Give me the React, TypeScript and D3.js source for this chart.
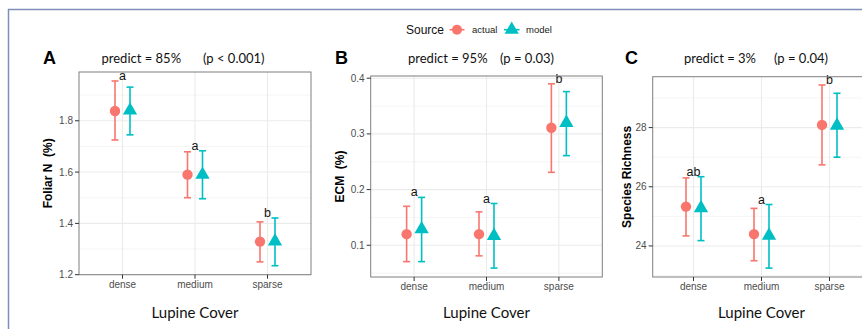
import * as d3 from 'd3'

const categories = ['dense', 'medium', 'sparse']

// Panel A: Foliar N (%)
const foliarActualMean = [1.838, 1.59, 1.329]
const foliarActualLower = [1.725, 1.5, 1.25]
const foliarActualUpper = [1.955, 1.679, 1.406]
const foliarModelMean = [1.84, 1.59, 1.33]
const foliarModelLower = [1.745, 1.496, 1.235]
const foliarModelUpper = [1.931, 1.683, 1.421]
const foliarLetters = ['a', 'a', 'b']
const foliarTicks = [1.2, 1.4, 1.6, 1.8]
const foliarMinor = [1.3, 1.5, 1.7, 1.9]

// Panel B: ECM (%)
const ecmActualMean = [0.12, 0.12, 0.311]
const ecmActualLower = [0.0706, 0.081, 0.231]
const ecmActualUpper = [0.17, 0.16, 0.39]
const ecmModelMean = [0.129, 0.117, 0.32]
const ecmModelLower = [0.0706, 0.059, 0.261]
const ecmModelUpper = [0.186, 0.175, 0.376]
const ecmLetters = ['a', 'a', 'b']
const ecmTicks = [0.1, 0.2, 0.3, 0.4]
const ecmMinor = [0.05, 0.15, 0.25, 0.35]

// Panel C: Species Richness
const richActualMean = [25.33, 24.4, 28.09]
const richActualLower = [24.34, 23.5, 26.74]
const richActualUpper = [26.3, 25.27, 29.44]
const richModelMean = [25.28, 24.35, 28.07]
const richModelLower = [24.18, 23.25, 27.0]
const richModelUpper = [26.34, 25.4, 29.16]
const richLetters = ['ab', 'a', 'b']
const richTicks = [24, 26, 28]
const richMinor = [23, 25, 27, 29]

const RED = '#F8766D'
const TEAL = '#00BFC4'
const SANS = 'Liberation Sans, Arial, sans-serif'
const HUMAN = 'Lato, Open Sans, sans-serif'

interface Series {
  mean: number[]
  lower: number[]
  upper: number[]
}

interface PanelProps {
  tag: string
  predict: string
  pval: string
  yTitle: string
  box: { left: number; top: number; right: number; bottom: number }
  domain: [number, number]
  ticks: number[]
  minor: number[]
  actual: Series
  model: Series
  letters: string[]
  yTitleX: number
  predictX: number
  pvalX: number
  tagX: number
  fmt: (v: number) => string
}

const triangle = d3.symbol(d3.symbolTriangle, 88)()

function Panel(p: PanelProps) {
  const { left, top, right, bottom } = p.box
  const x = d3.scaleBand<string>().domain(categories).range([left, right]).paddingOuter(0.1)
  const bw = x.bandwidth()
  const cx = (c: string) => (x(c) as number) + bw / 2
  const y = d3.scaleLinear().domain(p.domain).range([bottom, top])
  const dodge = 7.5
  const cap = 3.5

  const drawBar = (s: Series, i: number, xc: number, color: string) => (
    <g stroke={color} strokeWidth={1.6} fill="none">
      <line x1={xc} x2={xc} y1={y(s.lower[i])} y2={y(s.upper[i])} />
      <line x1={xc - cap} x2={xc + cap} y1={y(s.lower[i])} y2={y(s.lower[i])} />
      <line x1={xc - cap} x2={xc + cap} y1={y(s.upper[i])} y2={y(s.upper[i])} />
    </g>
  )

  return (
    <g>
      {/* grid */}
      {p.minor.map((v) => (
        <line key={'mi' + v} x1={left} x2={right} y1={y(v)} y2={y(v)} stroke="#f2f2f2" strokeWidth={0.8} />
      ))}
      {p.ticks.map((v) => (
        <line key={'ma' + v} x1={left} x2={right} y1={y(v)} y2={y(v)} stroke="#ebebeb" strokeWidth={1.1} />
      ))}
      {categories.map((c) => (
        <line key={'vx' + c} x1={cx(c)} x2={cx(c)} y1={top} y2={bottom} stroke="#ebebeb" strokeWidth={1.1} />
      ))}

      {/* marks */}
      {categories.map((c, i) => {
        const xa = cx(c) - dodge
        const xm = cx(c) + dodge
        return (
          <g key={c}>
            {drawBar(p.actual, i, xa, RED)}
            <circle cx={xa} cy={y(p.actual.mean[i])} r={5.2} fill={RED} />
            {drawBar(p.model, i, xm, TEAL)}
            <path d={triangle as string} transform={`translate(${xm},${y(p.model.mean[i])})`} fill={TEAL} />
            <text
              x={cx(c)}
              y={y(Math.max(p.actual.upper[i], p.model.upper[i])) - 1}
              textAnchor="middle"
              fontFamily={SANS}
              fontSize={12.5}
              fill="#111"
            >
              {p.letters[i]}
            </text>
          </g>
        )
      })}

      {/* panel border */}
      <rect x={left} y={top} width={right - left} height={bottom - top} fill="none" stroke="#7f7f7f" strokeWidth={1} />

      {/* y axis */}
      {p.ticks.map((v) => (
        <g key={'yt' + v}>
          <line x1={left - 4} x2={left} y1={y(v)} y2={y(v)} stroke="#333" strokeWidth={1} />
          <text x={left - 6} y={y(v)} dy="0.35em" textAnchor="end" fontFamily={SANS} fontSize={10} fill="#4d4d4d">
            {p.fmt(v)}
          </text>
        </g>
      ))}
      <text
        transform={`translate(${p.yTitleX},${(top + bottom) / 2}) rotate(-90)`}
        dy="0.35em"
        textAnchor="middle"
        fontFamily={SANS}
        fontSize={12}
        fontWeight="bold"
        fill="#000"
        style={{ whiteSpace: 'pre' }}
      >
        {p.yTitle}
      </text>

      {/* x axis */}
      {categories.map((c) => (
        <g key={'xt' + c}>
          <line x1={cx(c)} x2={cx(c)} y1={bottom} y2={bottom + 4} stroke="#333" strokeWidth={1} />
          <text x={cx(c)} y={bottom + 13} textAnchor="middle" fontFamily={SANS} fontSize={10} fill="#4d4d4d">
            {c}
          </text>
        </g>
      ))}
      <text x={(left + right) / 2} y={318} textAnchor="middle" fontFamily={HUMAN} fontSize={15} fill="#111">
        Lupine Cover
      </text>

      {/* titles */}
      <text x={p.tagX} y={64} fontFamily={SANS} fontSize={18} fontWeight="bold" fill="#000">
        {p.tag}
      </text>
      <text x={p.predictX} y={63} fontFamily={HUMAN} fontSize={13} fill="#111">
        {p.predict}
      </text>
      <text x={p.pvalX} y={63} fontFamily={HUMAN} fontSize={13} fill="#111">
        {p.pval}
      </text>
    </g>
  )
}

export default function App() {
  const fmt1 = d3.format('.1f')
  const fmt0 = d3.format('d')
  return (
    <div style={{ position: 'fixed', left: 0, top: 0 }}>
      <svg width={862} height={329} style={{ display: 'block', background: '#fff' }}>
        <rect x={0} y={0} width={862} height={329} fill="#fff" />
        {/* outer frame */}
        <line x1={8} x2={862} y1={9.5} y2={9.5} stroke="#7d8fb8" strokeWidth={1.5} />
        <line x1={8.5} x2={8.5} y1={9} y2={329} stroke="#7d8fb8" strokeWidth={1.5} />

        {/* legend */}
        <g>
          <text x={406} y={29.7} dy="0.35em" fontFamily={SANS} fontSize={12} fill="#111">
            Source
          </text>
          <line x1={449.5} x2={464.5} y1={29.7} y2={29.7} stroke={RED} strokeWidth={1.6} />
          <circle cx={457} cy={29.7} r={5} fill={RED} />
          <text x={472} y={29.7} dy="0.35em" fontFamily={SANS} fontSize={9.5} fill="#222">
            actual
          </text>
          <line x1={504} x2={519.5} y1={29.7} y2={29.7} stroke={TEAL} strokeWidth={1.6} />
          <path d={triangle as string} transform={`translate(511.7,29.7)`} fill={TEAL} />
          <text x={526} y={29.7} dy="0.35em" fontFamily={SANS} fontSize={9.5} fill="#222">
            model
          </text>
        </g>

        <Panel
          tag="A"
          predict="predict = 85%"
          pval="(p < 0.001)"
          yTitle={'Foliar N  (%)'}
          box={{ left: 79, top: 72, right: 311, bottom: 274.7 }}
          domain={[1.2, 1.99]}
          ticks={foliarTicks}
          minor={foliarMinor}
          actual={{ mean: foliarActualMean, lower: foliarActualLower, upper: foliarActualUpper }}
          model={{ mean: foliarModelMean, lower: foliarModelLower, upper: foliarModelUpper }}
          letters={foliarLetters}
          yTitleX={48}
          tagX={43}
          predictX={101.5}
          pvalX={203}
          fmt={fmt1}
        />
        <Panel
          tag="B"
          predict="predict = 95%"
          pval="(p = 0.03)"
          yTitle={'ECM  (%)'}
          box={{ left: 370.7, top: 76, right: 602.3, bottom: 277 }}
          domain={[0.043, 0.404]}
          ticks={ecmTicks}
          minor={ecmMinor}
          actual={{ mean: ecmActualMean, lower: ecmActualLower, upper: ecmActualUpper }}
          model={{ mean: ecmModelMean, lower: ecmModelLower, upper: ecmModelUpper }}
          letters={ecmLetters}
          yTitleX={340}
          tagX={335}
          predictX={408}
          pvalX={500}
          fmt={fmt1}
        />
        <Panel
          tag="C"
          predict="predict = 3%"
          pval="(p = 0.04)"
          yTitle="Species Richness"
          box={{ left: 652.7, top: 76.7, right: 870.3, bottom: 277 }}
          domain={[22.95, 29.72]}
          ticks={richTicks}
          minor={richMinor}
          actual={{ mean: richActualMean, lower: richActualLower, upper: richActualUpper }}
          model={{ mean: richModelMean, lower: richModelLower, upper: richModelUpper }}
          letters={richLetters}
          yTitleX={626.5}
          tagX={625}
          predictX={684}
          pvalX={774}
          fmt={fmt0}
        />
      </svg>
    </div>
  )
}
